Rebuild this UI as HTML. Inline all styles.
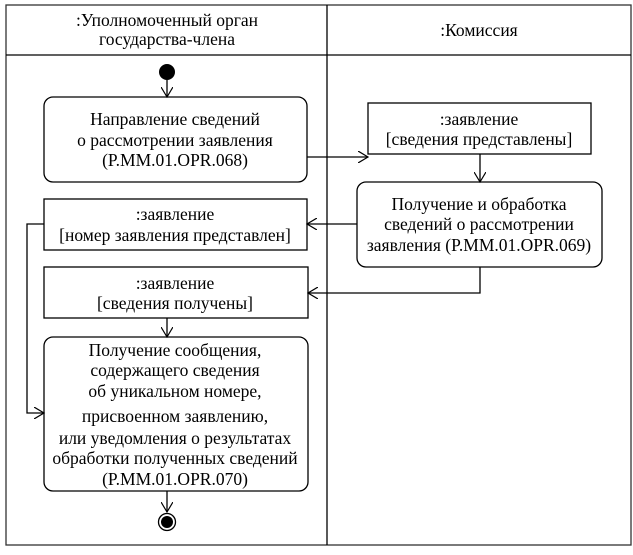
<!DOCTYPE html>
<html><head><meta charset="utf-8"><style>
body{margin:0;background:#fff}
svg text{font-family:"Liberation Serif","DejaVu Serif",serif;font-size:17.5px;fill:#000}
</style></head><body>
<svg width="633" height="550" viewBox="0 0 633 550" xmlns="http://www.w3.org/2000/svg">
<defs><marker id="a" markerWidth="12" markerHeight="12" refX="10" refY="6" orient="auto" markerUnits="userSpaceOnUse"><path d="M0,0 L10,6 L0,12" fill="none" stroke="#000" stroke-width="1.2"/></marker></defs>
<g fill="none" stroke="#000" stroke-width="1.3">
<rect x="6" y="5" width="625" height="540" stroke="#333"/>
<line x1="6" y1="55" x2="631" y2="55"/>
<line x1="327" y1="5" x2="327" y2="545"/>
<rect x="44" y="97" width="263" height="85" rx="9"/>
<rect x="368" y="103" width="223" height="51"/>
<rect x="357" y="182" width="245" height="85" rx="9"/>
<rect x="44" y="199" width="263" height="51"/>
<rect x="44" y="267" width="264" height="51"/>
<rect x="44" y="337" width="264" height="154" rx="9"/>
<line x1="167" y1="80" x2="167" y2="97" marker-end="url(#a)"/>
<line x1="307" y1="157" x2="368" y2="157" marker-end="url(#a)"/>
<line x1="480" y1="154" x2="480" y2="182" marker-end="url(#a)"/>
<line x1="357" y1="224" x2="307" y2="224" marker-end="url(#a)"/>
<polyline points="480,267 480,293 308,293" marker-end="url(#a)"/>
<polyline points="44,224 27,224 27,413 44,413" marker-end="url(#a)"/>
<line x1="167" y1="318" x2="167" y2="337" marker-end="url(#a)"/>
<line x1="167" y1="491" x2="167" y2="512" marker-end="url(#a)"/>
<circle cx="167" cy="522" r="8.5"/>
</g>
<circle cx="167" cy="72" r="8" fill="#000"/>
<circle cx="167" cy="522" r="6" fill="#000"/>
<g text-anchor="middle">
<text x="167" y="26">:Уполномоченный орган</text>
<text x="167" y="45">государства-члена</text>
<text x="479" y="36">:Комиссия</text>
<text x="175" y="125">Направление сведений</text>
<text x="175" y="146">о рассмотрении заявления</text>
<text x="175" y="166">(P.MM.01.OPR.068)</text>
<text x="479" y="125">:заявление</text>
<text x="479" y="145">[сведения представлены]</text>
<text x="479" y="210">Получение и обработка</text>
<text x="479" y="230">сведений о рассмотрении</text>
<text x="479" y="251">заявления (P.MM.01.OPR.069)</text>
<text x="175" y="220">:заявление</text>
<text x="175" y="241">[номер заявления представлен]</text>
<text x="175" y="289">:заявление</text>
<text x="175" y="309">[сведения получены]</text>
<text x="175" y="356">Получение сообщения,</text>
<text x="175" y="376">содержащего сведения</text>
<text x="175" y="397">об уникальном номере,</text>
<text x="175" y="422">присвоенном заявлению,</text>
<text x="175" y="444">или уведомления о результатах</text>
<text x="175" y="464">обработки полученных сведений</text>
<text x="175" y="485">(P.MM.01.OPR.070)</text>
</g>
</svg>
</body></html>
